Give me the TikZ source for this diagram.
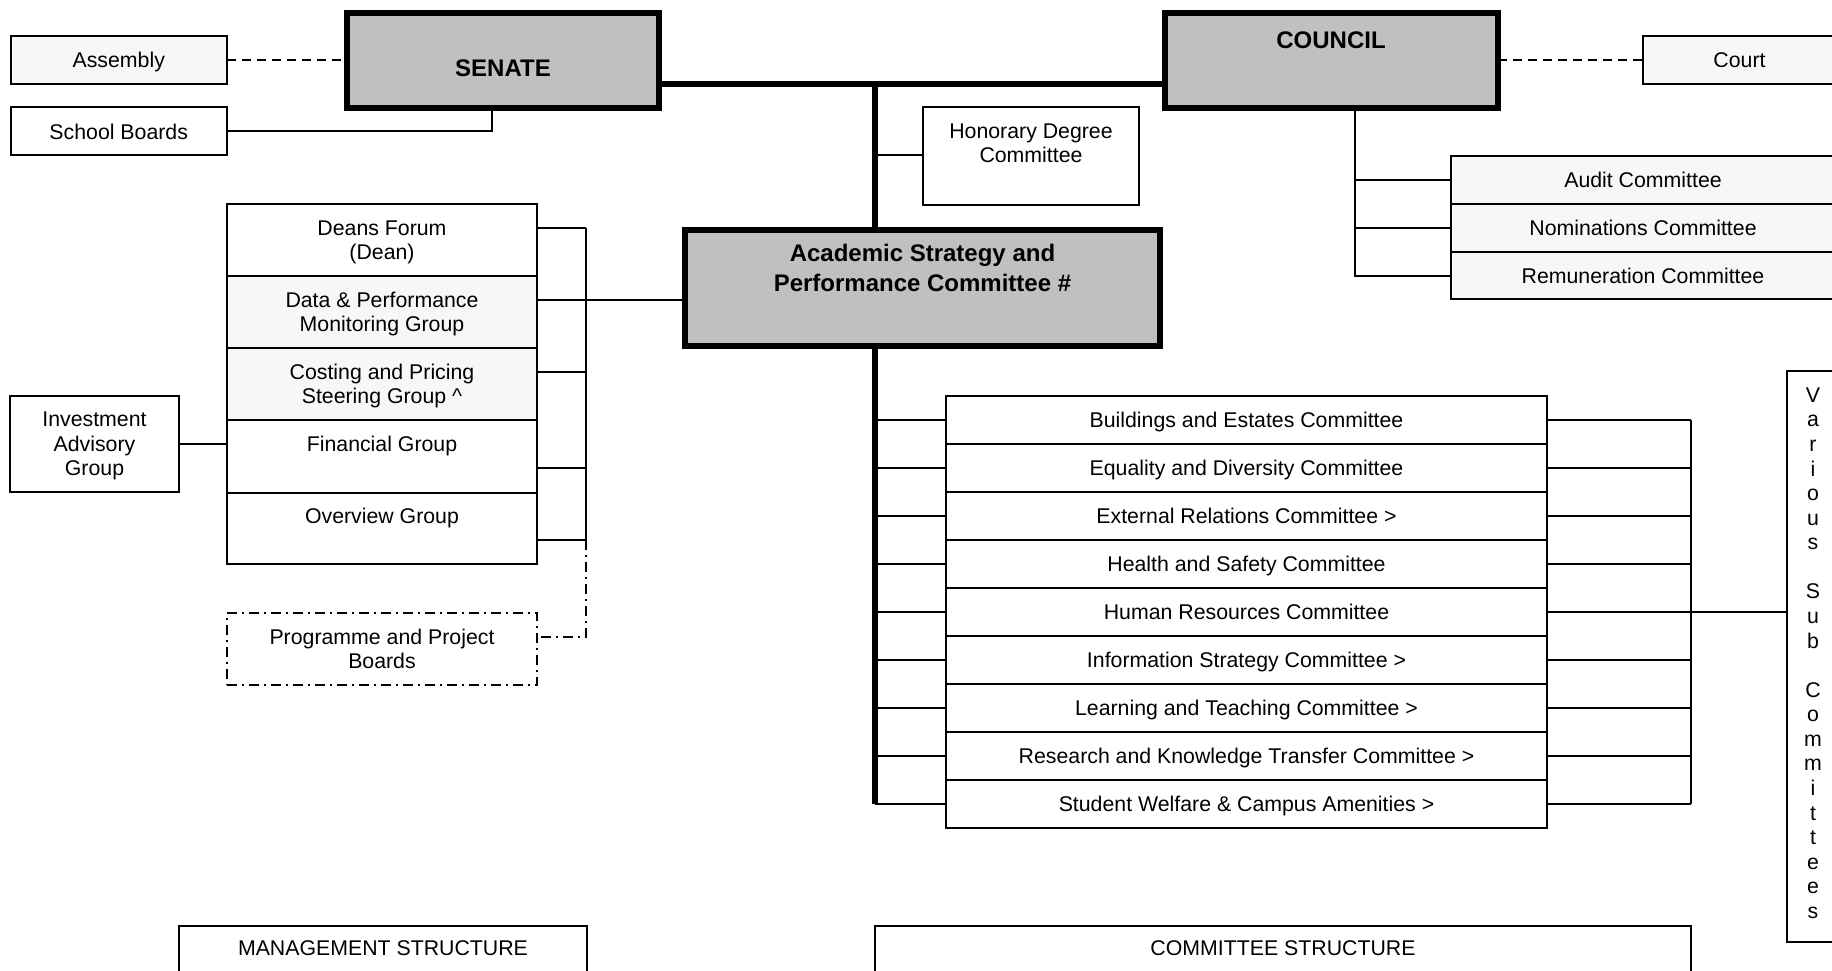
\documentclass[tikz,border=0pt]{standalone}
\usepackage{fontspec}
\setmainfont{Liberation Sans}
\definecolor{boxgray}{HTML}{C0C0C0}
\definecolor{boxlight}{HTML}{F7F7F7}
\newcommand{\fsn}{\fontsize{21.3}{24.5}\selectfont}
\newcommand{\fsb}{\fontsize{24}{30}\selectfont\bfseries}
% style, name, x1, y1, x2, y2, text
\newcommand{\rbox}[7]{\node[#1, minimum width={(#5)-(#3)}, minimum height={(#6)-(#4)}] (#2) at ({((#3)+(#5))/2},{((#4)+(#6))/2}) {#7};}
\begin{document}
\begin{tikzpicture}[x=1pt,y=-1pt,
  box/.style={draw, line width=2pt, fill=white, inner sep=0pt, outer sep=0pt, font=\fsn, align=center, text depth=0pt},
  lightbox/.style={box, fill=boxlight},
  dotbox/.style={box, dash pattern=on 10pt off 5pt on 2pt off 5pt},
  bigbox/.style={draw, line width=6pt, fill=boxgray, inner sep=0pt, outer sep=0pt},
  txt/.style={font=\fsn, align=center, inner sep=0pt, text depth=0pt},
  btxt/.style={font=\fsb, align=center, inner sep=0pt, text depth=0pt},
  conn/.style={line width=2pt},
  thickconn/.style={line width=6pt},
  dashconn/.style={line width=2pt, dash pattern=on 9pt off 6pt},
  dotconn/.style={line width=2pt, dash pattern=on 10pt off 5pt on 2pt off 5pt},
]
\useasboundingbox (0,0) rectangle (1832,971);
\fill[white] (0,0) rectangle (1832,971);

% ---- boxes ----
\rbox{lightbox}{assembly}{10.5}{36}{227}{84}{Assembly}
\rbox{box}{schoolb}{10.5}{107.5}{227}{155.5}{School Boards}
\rbox{bigbox}{senate}{347}{13}{659}{108}{}
\rbox{bigbox}{council}{1165}{13}{1498}{108}{}
\rbox{box}{honorary}{923}{107.5}{1139}{204.5}{}
\rbox{lightbox}{court}{1643}{36}{1836}{84}{Court}
\rbox{lightbox}{audit}{1451}{156}{1835}{204}{Audit Committee}
\rbox{lightbox}{nomin}{1451}{204}{1835}{252}{Nominations Committee}
\rbox{lightbox}{remun}{1451}{252}{1835}{299}{Remuneration Committee}
\rbox{bigbox}{aspc}{685}{230}{1160}{346}{}
\rbox{box}{deans}{227}{204}{537}{276}{Deans Forum\\(Dean)}
\rbox{lightbox}{data}{227}{276}{537}{348}{Data \& Performance\\Monitoring Group}
\rbox{lightbox}{costing}{227}{348}{537}{420}{Costing and Pricing\\Steering Group \^{}}
\rbox{box}{financial}{227}{420}{537}{493}{}
\rbox{box}{overview}{227}{493}{537}{564}{}
\rbox{box}{invest}{10}{396}{179}{492}{Investment\\Advisory\\Group}
\rbox{dotbox}{programme}{227}{613}{537}{685}{Programme and Project\\Boards}
\rbox{box}{various}{1787}{371}{1845}{942}{}
\rbox{box}{mgmts}{179}{926}{587}{990}{}
\rbox{box}{comms}{875}{926}{1691}{990}{}

\foreach \nm/\tx [count=\i from 0] in {
  c1/Buildings and Estates Committee,
  c2/Equality and Diversity Committee,
  c3/External Relations Committee >,
  c4/Health and Safety Committee,
  c5/Human Resources Committee,
  c6/Information Strategy Committee >,
  c7/Learning and Teaching Committee >,
  c8/Research and Knowledge Transfer Committee >,
  c9/Student Welfare \& Campus Amenities >}{
  \rbox{box}{\nm}{946}{396+48*\i}{1547}{444+48*\i}{\tx}
}

% ---- texts placed off-centre ----
\node[btxt] (tsenate) at (503,68) {SENATE};
\node[btxt] (tcouncil) at (1331,40) {COUNCIL};
\node[btxt] (taspc) at (922.5,268) {Academic Strategy and\\Performance Committee \#};
\node[txt] (thon) at (1031,143) {Honorary Degree\\Committee};
\node[txt] (tfin) at (382,444) {Financial Group};
\node[txt] (tover) at (382,516) {Overview Group};
\node[txt] (tmgmt) at (383,948) {MANAGEMENT STRUCTURE};
\node[txt] (tcomm) at (1283,948) {COMMITTEE STRUCTURE};
\node[font=\fontsize{21.3}{24.57}\selectfont, align=center, inner sep=0pt, text depth=0pt] (tvar) at (1813,653)
  {V\\a\\r\\i\\o\\u\\s\\\mbox{}\\S\\u\\b\\\mbox{}\\C\\o\\m\\m\\i\\t\\t\\e\\e\\s};

% ---- coordinates ----
\coordinate (hub) at (875,84);
\coordinate (h1) at (875,155);
\coordinate (cv) at (1355,108);
\coordinate (m1) at (586,300);
\coordinate (mtop) at (586,228);
\coordinate (mc) at (586,372);
\coordinate (mf) at (586,468);
\coordinate (mo) at (586,540);
\coordinate (mp) at (586,637);
\coordinate (rv) at (1691,420);

% ---- connectors ----
\draw[dashconn] (assembly.east) -- (assembly.east -| senate.west);
\draw[conn] (schoolb.east) -| ([xshift=-11pt]senate.south);
\draw[thickconn] (senate.east |- hub) -- (council.west |- hub);
\draw[thickconn] (hub) -- (hub |- aspc.north);
\draw[conn] (h1) -- (h1 -| honorary.west);
\draw[dashconn] (council.east) -- (council.east -| court.west);
\draw[conn] (cv) |- (remun.west);
\draw[conn] (cv |- audit.west) -- (audit.west);
\draw[conn] (cv |- nomin.west) -- (nomin.west);

\draw[conn] (m1) -- (m1 -| aspc.west);
\draw[conn] (mtop) -- (mo);
\draw[conn] (deans.east |- mtop) -- (mtop);
\draw[conn] (data.east |- m1) -- (m1);
\draw[conn] (costing.east |- mc) -- (mc);
\draw[conn] (financial.east |- mf) -- (mf);
\draw[conn] (overview.east |- mo) -- (mo);
\draw[dotconn] (mo) -- (mp) -- (programme.east |- mp);
\draw[conn] (invest.east) -- (invest.east -| financial.west);

\draw[thickconn] (hub |- aspc.south) -- (hub |- c9.west);
\foreach \nm in {c1,c2,c3,c4,c5,c6,c7,c8,c9}{
  \draw[conn] (hub |- \nm.west) -- (\nm.west);
  \draw[conn] (\nm.east) -- (rv |- \nm.east);
}
\draw[conn] (rv |- c1.east) -- (rv |- c9.east);
\draw[conn] (rv |- c5.east) -- (various.west |- c5.east);
\end{tikzpicture}
\end{document}
